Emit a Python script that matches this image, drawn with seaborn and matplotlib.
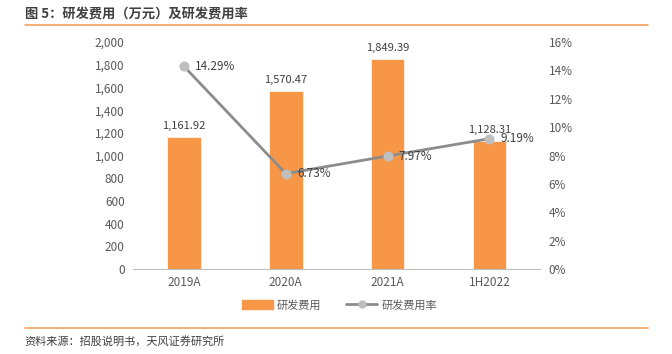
import matplotlib
matplotlib.use("Agg")
import matplotlib.pyplot as plt
import seaborn as sns
import pandas as pd
from matplotlib.lines import Line2D
from matplotlib.patches import Patch

categories = ["2019A", "2020A", "2021A", "1H2022"]
rd_expense = [1161.92, 1570.47, 1849.39, 1128.31]
rd_ratio = [14.29, 6.73, 7.97, 9.19]
expense_labels = ["1,161.92", "1,570.47", "1,849.39", "1,128.31"]
ratio_labels = ["14.29%", "6.73%", "7.97%", "9.19%"]
left_ticks = [0, 200, 400, 600, 800, 1000, 1200, 1400, 1600, 1800, 2000]
right_ticks = [0, 2, 4, 6, 8, 10, 12, 14, 16]

sns.set_theme(style="white")
plt.rcParams['font.family'] = ['Noto Sans CJK SC', 'DejaVu Sans']

df = pd.DataFrame({"cat": categories, "exp": rd_expense, "ratio": rd_ratio})

fig = plt.figure(figsize=(6.72, 3.54), dpi=100)
ax = fig.add_axes([0.198, 0.240, 0.606, 0.641])
bar_color = "#F79646"
sns.barplot(data=df, x="cat", y="exp", color=bar_color, width=0.33, ax=ax,
            saturation=1, edgecolor="white", linewidth=0.5)
ax.set_ylim(0, 2000)
ax.set_yticks(left_ticks)
ax.set_yticklabels([f"{v:,}" for v in left_ticks], fontsize=8.5, color="#595959")
ax.set_xlabel("")
ax.set_ylabel("")
ax.tick_params(axis="x", labelsize=8.5, colors="#595959", length=0, pad=5)
ax.tick_params(axis="y", length=0, pad=6)
for s in ["top", "right", "left"]:
    ax.spines[s].set_visible(False)
ax.spines["bottom"].set_color("#BFBFBF")
ax.spines["bottom"].set_linewidth(0.8)
ax.set_xlim(-0.5, 3.5)
for i, (v, lab) in enumerate(zip(rd_expense, expense_labels)):
    ax.text(i, v + 55, lab, ha="center", va="bottom", fontsize=8, color="#404040")

ax2 = ax.twinx()
sns.lineplot(data=df, x="cat", y="ratio", ax=ax2, color="#8C8C8C", linewidth=2,
             marker="o", markersize=6.5, markerfacecolor="#BFBFBF",
             markeredgecolor="#BFBFBF", sort=False)
ax2.set_ylim(0, 16)
ax2.set_yticks(right_ticks)
ax2.set_yticklabels([f"{v}%" for v in right_ticks], fontsize=8.5, color="#595959")
ax2.tick_params(axis="y", length=0, pad=6)
ax2.set_ylabel("")
ax2.set_xlabel("")
for s in ["top", "right", "left", "bottom"]:
    ax2.spines[s].set_visible(False)
ax2.set_xlim(-0.5, 3.5)
for i, (v, lab) in enumerate(zip(rd_ratio, ratio_labels)):
    ax2.text(i + 0.11, v, lab, ha="left", va="center", fontsize=8.5, color="#404040")

handles = [Patch(facecolor=bar_color, edgecolor=bar_color),
           Line2D([0], [0], color="#8C8C8C", lw=2, marker="o", markersize=5,
                  markerfacecolor="#BFBFBF", markeredgecolor="#BFBFBF")]
fig.legend(handles, ["研发费用", "研发费用率"], loc="center", bbox_to_anchor=(0.505, 0.138),
           ncol=2, frameon=False, fontsize=8, labelcolor="#595959",
           handlelength=2.8, handleheight=0.8, columnspacing=2.2, handletextpad=0.4)

fig.text(0.037, 0.962, "图 5：研发费用（万元）及研发费用率", fontsize=9.5, fontweight="bold",
         color="#404040", ha="left", va="center")
fig.add_artist(Line2D([0.037, 0.964], [0.928, 0.928], color="#F2A25C", lw=1.2,
                      transform=fig.transFigure))
fig.add_artist(Line2D([0.037, 0.964], [0.073, 0.073], color="#F2A25C", lw=1.2,
                      transform=fig.transFigure))
fig.text(0.037, 0.035, "资料来源：招股说明书，天风证券研究所", fontsize=8,
         color="#404040", ha="left", va="center")

fig.savefig("out.png", dpi=100)
